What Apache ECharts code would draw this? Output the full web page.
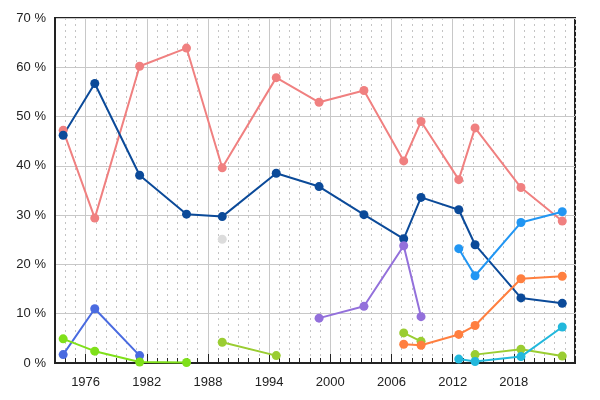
<!DOCTYPE html>
<html>
<head>
<meta charset="utf-8">
<script src="https://cdn.jsdelivr.net/npm/echarts@6/dist/echarts.min.js"></script>
<style>
  html, body { margin: 0; padding: 0; background: #fff; }
  #chart { width: 600px; height: 400px; }
</style>
</head>
<body>
<div id="chart"></div>
<script>
// election dates (fractional years) shared by all series
const years = [1973.8, 1976.9, 1981.3, 1985.9, 1989.4, 1994.7, 1998.9, 2003.3, 2007.2, 2008.9, 2012.6, 2014.2, 2018.7, 2022.75];
const majorYears = [1976, 1982, 1988, 1994, 2000, 2006, 2012, 2018];

// vote shares in %, null where the party did not run
const pink   = [47.2, 29.4, 60.2, 63.9, 39.6, 57.9, 52.9, 55.3, 41.0, 49.0, 37.2, 47.7, 35.6, 28.8];
const navy   = [46.2, 56.7, 38.1, 30.2, 29.7, 38.5, 35.8, 30.1, 25.2, 33.6, 31.1, 24.0, 13.2, 12.1];
const royal  = [1.7, 11.0, 1.5, null, null, null, null, null, null, null, null, null, null, null];
const lime   = [4.9, 2.4, 0.2, 0.1, null, null, null, null, null, null, null, null, null, null];
const grey   = [null, null, null, null, 25.1, null, null, null, null, null, null, null, null, null];
const olive  = [null, null, null, null, 4.2, 1.5, null, null, 6.1, 4.4, null, 1.7, 2.8, 1.4];
const purple = [null, null, null, null, null, null, 9.1, 11.5, 23.8, 9.4, null, null, null, null];
const azure  = [null, null, null, null, null, null, null, null, null, null, 23.2, 17.7, 28.5, 30.7];
const orange = [null, null, null, null, null, null, null, null, 3.8, 3.6, 5.8, 7.6, 17.1, 17.6];
const cyan   = [null, null, null, null, null, null, null, null, null, null, 0.8, 0.3, 1.3, 7.3];

const yTicks = { min: 0, max: 70, step: 10 };

const parties = [
  { name: 'pink', data: pink, color: '#f08080' },
  { name: 'navy', data: navy, color: '#0b4a99' },
  { name: 'royal', data: royal, color: '#4a6be0' },
  { name: 'lime', data: lime, color: '#7fe01a' },
  { name: 'grey', data: grey, color: '#dcdcdc' },
  { name: 'olive', data: olive, color: '#9acd32' },
  { name: 'purple', data: purple, color: '#9370db' },
  { name: 'azure', data: azure, color: '#2196f3' },
  { name: 'orange', data: orange, color: '#ff7f3f' },
  { name: 'cyan', data: cyan, color: '#22b8dc' }
];

const chart = echarts.init(document.getElementById('chart'));

const labelFont = { color: '#222', fontSize: 13, fontFamily: 'Liberation Sans' };

chart.setOption({
  animation: false,
  grid: {
    left: 55, right: 25, top: 18, bottom: 37,
    show: true, borderColor: '#222', borderWidth: 2
  },
  xAxis: [
    {
      // yearly ticks and dotted lines
      type: 'value', position: 'bottom',
      min: 1973, max: 2024, interval: 1,
      axisLine: { show: true, lineStyle: { color: '#222', width: 2 } },
      axisTick: { show: true, inside: true, length: 5, lineStyle: { color: '#222' } },
      axisLabel: { show: false },
      splitLine: { show: true, lineStyle: { color: '#c4c4c4', type: [2, 4] } }
    },
    {
      // labelled six-year ticks
      type: 'value', position: 'bottom',
      min: 1973, max: 2024, interval: 1,
      axisLine: { show: false },
      axisTick: { show: true, inside: true, length: 9, customValues: majorYears, lineStyle: { color: '#222' } },
      axisLabel: Object.assign({ customValues: majorYears, margin: 13, formatter: v => String(v) }, labelFont),
      splitLine: { show: true, lineStyle: { color: '#c8c8c8', width: 1 } }
    }
  ],
  yAxis: {
    type: 'value',
    min: yTicks.min, max: yTicks.max, interval: yTicks.step,
    axisLine: { show: true, lineStyle: { color: '#222', width: 2 } },
    axisTick: { show: false },
    axisLabel: Object.assign({ formatter: '{value} %', margin: 9 }, labelFont),
    splitLine: { show: true, lineStyle: { color: '#c8c8c8', width: 1 } }
  },
  series: parties.map(p => ({
    name: p.name,
    type: 'line',
    xAxisIndex: 0,
    symbol: 'circle',
    symbolSize: 9,
    showSymbol: true,
    connectNulls: false,
    itemStyle: { color: p.color },
    lineStyle: { color: p.color, width: 2 },
    data: years.map((y, i) => [y, p.data[i] == null ? '-' : p.data[i]])
  }))
});
</script>
</body>
</html>
